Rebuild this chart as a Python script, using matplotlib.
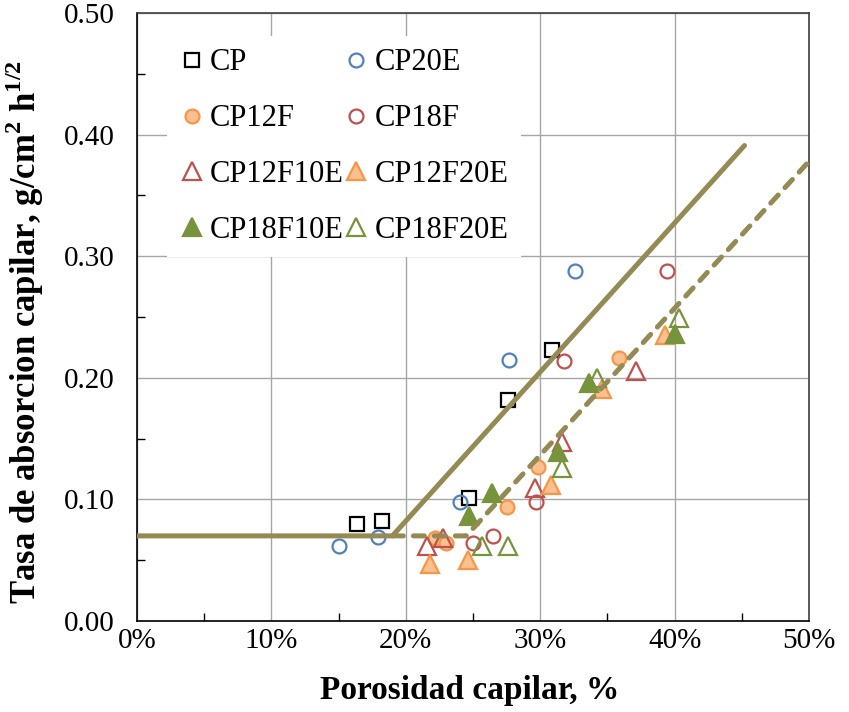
import numpy as np
import matplotlib
matplotlib.use("Agg")
import matplotlib.pyplot as plt
from matplotlib.ticker import MultipleLocator, FuncFormatter

# ---------------------------------------------------------------------
# Data (x = porosidad capilar %, y = tasa g/cm2 h1/2)
# ---------------------------------------------------------------------
cp_x = [16.4, 18.2, 24.7, 27.6, 30.9]
cp_y = [0.080, 0.082, 0.101, 0.182, 0.223]

cp20e_x = [15.0, 17.9, 24.0, 27.7, 32.6]
cp20e_y = [0.062, 0.069, 0.098, 0.215, 0.288]

cp12f_x = [22.2, 23.0, 27.5, 29.8, 35.9]
cp12f_y = [0.068, 0.064, 0.094, 0.127, 0.216]

cp18f_x = [25.0, 26.5, 29.7, 31.8, 39.4]
cp18f_y = [0.064, 0.070, 0.098, 0.214, 0.288]

cp12f10e_x = [21.6, 22.8, 29.6, 31.6, 37.1]
cp12f10e_y = [0.062, 0.068, 0.109, 0.147, 0.206]

cp12f20e_x = [21.8, 24.6, 30.8, 34.6, 39.3]
cp12f20e_y = [0.047, 0.050, 0.112, 0.191, 0.235]

cp18f10e_x = [24.7, 26.4, 31.3, 33.6, 40.0]
cp18f10e_y = [0.086, 0.105, 0.139, 0.196, 0.236]

cp18f20e_x = [25.7, 27.6, 31.6, 34.2, 40.3]
cp18f20e_y = [0.062, 0.062, 0.126, 0.200, 0.249]

# fitted trend lines (breakpoints)
solid_x = [0.0, 19.0, 45.2]
solid_y = [0.070, 0.070, 0.391]
dashed_x = [19.0, 24.5, 50.0]
dashed_y = [0.070, 0.070, 0.378]

# ---------------------------------------------------------------------
plt.rcParams['font.family'] = ['Liberation Serif', 'DejaVu Serif']
plt.rcParams['mathtext.fontset'] = 'custom'
plt.rcParams['mathtext.rm'] = 'Liberation Serif:bold'
plt.rcParams['mathtext.bf'] = 'Liberation Serif:bold'

fig = plt.figure(figsize=(8.49, 7.12), dpi=100)
ax = fig.add_axes([137 / 849, 1 - 621 / 712, 672 / 849, 608 / 712])

blue = '#4F81BD'
red = '#C0504D'
orange = '#F79646'
light_orange = '#FAC090'
green = '#77933C'
olive = '#948A54'

mew = 1.6
series = [
    ("CP", cp_x, cp_y, dict(marker='s', ms=10, mfc='white', mec='black')),
    ("CP20E", cp20e_x, cp20e_y, dict(marker='o', ms=10, mfc='none', mec=blue)),
    ("CP12F", cp12f_x, cp12f_y, dict(marker='o', ms=10, mfc=light_orange, mec=orange)),
    ("CP18F", cp18f_x, cp18f_y, dict(marker='o', ms=10, mfc='none', mec=red)),
    ("CP12F10E", cp12f10e_x, cp12f10e_y, dict(marker='^', ms=13, mfc='none', mec=red)),
    ("CP12F20E", cp12f20e_x, cp12f20e_y, dict(marker='^', ms=13, mfc=light_orange, mec=orange)),
    ("CP18F10E", cp18f10e_x, cp18f10e_y, dict(marker='^', ms=13, mfc=green, mec=green)),
    ("CP18F20E", cp18f20e_x, cp18f20e_y, dict(marker='^', ms=13, mfc='none', mec=green)),
]

handles = {}
for name, xs, ys, style in series:
    h, = ax.plot(xs, ys, linestyle='none', mew=mew, label=name, zorder=3, **style)
    handles[name] = h

ax.plot(solid_x, solid_y, color=olive, lw=3.6, solid_capstyle='round', zorder=4)
ax.plot(dashed_x, dashed_y, color=olive, lw=3.6, dashes=(2.2, 2.0),
        dash_capstyle='round', zorder=4)

ax.set_xlim(0, 50)
ax.set_ylim(0, 0.5)
ax.xaxis.set_major_locator(MultipleLocator(10))
ax.xaxis.set_minor_locator(MultipleLocator(5))
ax.yaxis.set_major_locator(MultipleLocator(0.1))
ax.yaxis.set_minor_locator(MultipleLocator(0.05))
ax.xaxis.set_major_formatter(FuncFormatter(lambda v, p: f"{v:.0f}%"))
ax.yaxis.set_major_formatter(FuncFormatter(lambda v, p: f"{v:.2f}"))

ax.grid(True, which='major', color='#A6A6A6', lw=1.0, zorder=0)
ax.set_axisbelow(True)
ax.tick_params(which='major', length=0, labelsize=21)
ax.tick_params(axis='x', which='major', pad=5)
ax.tick_params(axis='y', which='major', pad=16)
ax.tick_params(which='minor', direction='in', length=6, width=1, color='black')
for side in ['left', 'bottom']:
    ax.spines[side].set_color('black')
    ax.spines[side].set_linewidth(1.2)
for side in ['top', 'right']:
    ax.spines[side].set_color('#404040')
    ax.spines[side].set_linewidth(1.2)

# legend filled row by row: reorder for matplotlib's column-major fill
order = ["CP", "CP12F", "CP12F10E", "CP18F10E",
         "CP20E", "CP18F", "CP12F20E", "CP18F20E"]
leg = ax.legend([handles[n] for n in order], order,
                loc='upper left', bbox_to_anchor=(0.045, 0.962), borderaxespad=0,
                ncol=2, fontsize=22, frameon=True, edgecolor='none',
                facecolor='white', framealpha=1.0, fancybox=False,
                labelspacing=0.88, handlelength=0.8, handletextpad=0.2,
                columnspacing=0.0, borderpad=0.4, markerscale=1.0)

fig.text(470 / 849, 1 - 690 / 712, "Porosidad capilar, %", ha='center', va='center',
         fontsize=24, fontweight='bold')
fig.text(25 / 849, 1 - 332 / 712,
         r"Tasa de absorcion capilar, g/cm$^{2}$ h$^{1/2}$",
         ha='center', va='center', rotation=90, fontsize=25, fontweight='bold')

fig.savefig("out.png", dpi=100)
